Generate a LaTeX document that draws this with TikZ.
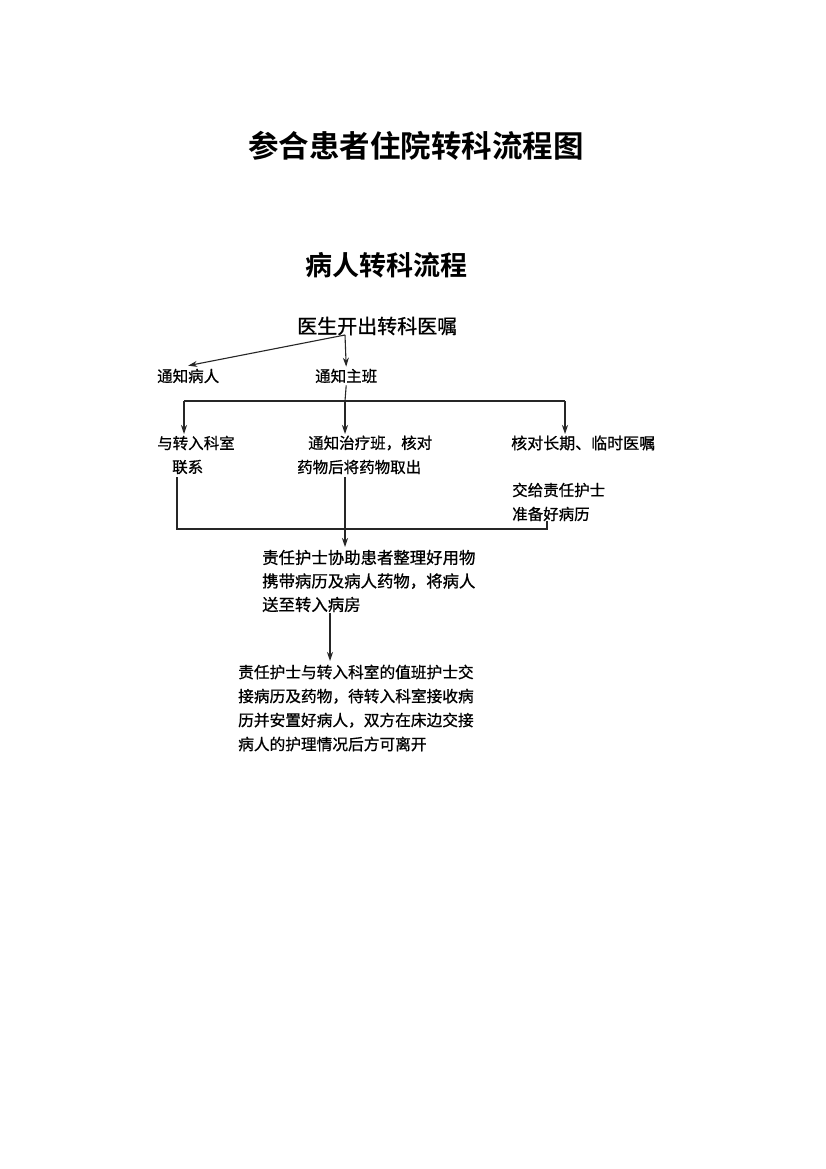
\documentclass[tikz,border=0pt]{standalone}
\usepackage{fontspec}
\setmainfont[FakeBold=0.8,AutoFakeBold=0.8]{Noto Sans CJK SC}
\newfontfamily\cjkb{Noto Sans CJK SC Bold}
\newfontfamily\cjkm[FakeBold=0.8]{Noto Sans CJK SC}
\usetikzlibrary{arrows.meta}
\tikzset{
  txt/.style={inner sep=0pt, anchor=west, font=\cjkm\fontsize{15.5}{15.5}\selectfont},
  conn/.style={line width=1.1pt, draw=black!85},
  arr/.style={conn, -{Stealth[length=9pt,width=6pt]}},
}
\begin{document}
\begin{tikzpicture}[x=1pt,y=-1pt]
\useasboundingbox (0,0) rectangle (826,1169);
\fill[white] (0,0) rectangle (826,1169);
\node[inner sep=0pt, font=\cjkb\fontsize{30.5}{30.5}\selectfont] (title) at (416,146) {参合患者住院转科流程图};
\node[inner sep=0pt, font=\cjkb\fontsize{27}{27}\selectfont] (sub) at (386,265) {病人转科流程};
\node[txt, font=\cjkm\fontsize{20}{20}\selectfont] (doc) at (297,326) {医生开出转科医嘱};
\node[txt] (tzbr) at (157,376) {通知病人};
\node[txt] (tzzb) at (315,376) {通知主班};
\coordinate (d1) at (345,335);
\draw[arr] (d1) -- ([yshift=3pt]tzbr.north);
\draw[arr] (d1) -- ([yshift=2pt]tzzb.north);
\node[txt] (lx1) at (157,443) {与转入科室};
\node[txt] (lx2) at (172,467) {联系};
\node[txt] (zl1) at (308,443) {通知治疗班，核对};
\node[txt] (zl2) at (297,467) {药物后将药物取出};
\node[txt, font=\cjkm\fontsize{16}{16}\selectfont] (hd) at (511,443) {核对长期、临时医嘱};
\node[txt] (jg1) at (512,490) {交给责任护士};
\node[txt] (jg2) at (512,514) {准备好病历};
\coordinate (j0) at (345,401);
\coordinate (jl) at (184,401);
\coordinate (jr) at (565,401);
\draw[conn] ([yshift=-2pt]tzzb.south) -- (j0);
\draw[conn] (jl) -- (jr);
\draw[arr] (jl) -- (184,434);
\draw[arr] (j0) -- (345,434);
\draw[arr] (jr) -- (565,434);
\node[txt, align=left, font=\cjkm\fontsize{16.4}{23.5}\selectfont] (hs) at (262,581) {责任护士协助患者整理好用物\\携带病历及病人药物，将病人\\送至转入病房};
\node[txt, align=left, font=\cjkm\fontsize{15.7}{24}\selectfont] (jj) at (238,708) {责任护士与转入科室的值班护士交\\接病历及药物，待转入科室接收病\\历并安置好病人，双方在床边交接\\病人的护理情况后方可离开};
\coordinate (bl) at (177,529);
\coordinate (br) at (547,529);
\draw[conn] (177,477) -- (bl) -- (br) -- (547,521);
\draw[arr] (345,477) -- (345,547);
\draw[arr] (330,613) -- (330,661);
\end{tikzpicture}
\end{document}
